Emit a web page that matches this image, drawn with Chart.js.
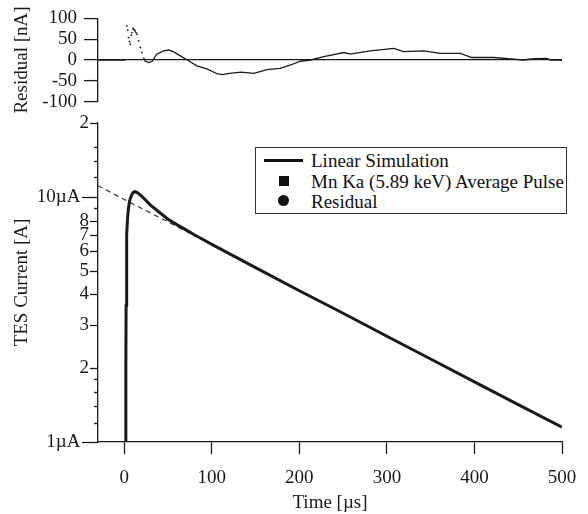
<!DOCTYPE html>
<html>
<head>
<meta charset="utf-8">
<script src="https://cdn.jsdelivr.net/npm/chart.js@4.4.1/dist/chart.umd.min.js"></script>
<style>
  html, body { margin: 0; padding: 0; background: #fff; }
  #wrap { position: relative; width: 588px; height: 514px; overflow: hidden; font-family: 'Liberation Serif', 'DejaVu Serif', serif; }
  canvas { position: absolute; left: 0; }
  #top { top: 0; }
  #main { top: 100px; }
  #legend { position: absolute; left: 255px; top: 147px; width: 312px; height: 67px; border: 1px solid #333; background: #fff; box-sizing: border-box; font-size: 19px; color: #111; }
  .row { position: absolute; left: 0; height: 21px; line-height: 21px; white-space: nowrap; }
  .row span.t { position: absolute; left: 55px; }
  .sym { position: absolute; }
</style>
</head>
<body>
<div id="wrap">
  <canvas id="top" width="588" height="120"></canvas>
  <canvas id="main" width="588" height="414"></canvas>
  <div id="legend">
    <div class="row" style="top:2px"><div class="sym" style="left:8px;top:9px;width:39px;height:3px;background:#111"></div><span class="t">Linear Simulation</span></div>
    <div class="row" style="top:23px"><div class="sym" style="left:23px;top:5px;width:10px;height:10px;background:#111"></div><span class="t">Mn Ka (5.89 keV) Average Pulse</span></div>
    <div class="row" style="top:43px"><div class="sym" style="left:22px;top:4px;width:11px;height:11px;border-radius:50%;background:#111"></div><span class="t">Residual</span></div>
  </div>
</div>
<script>
// ---------- data ----------
// Main panel: TES current (µA) vs time (µs)
const simTime    = [1.5, 1.8, 2.1, 2.5, 3, 3.5, 4.5, 6, 8, 10, 12, 15, 20, 25, 30, 40, 50, 60, 70, 80, 90, 100, 150, 200, 250, 300, 350, 400, 450, 500];
const simCurrent = [1.0, 2.0, 3.6, 5.5, 7.0, 7.9, 8.8, 9.6, 10.1, 10.4, 10.5, 10.4, 10.05, 9.65, 9.25, 8.65, 8.1, 7.7, 7.35, 7.0, 6.7, 6.4, 5.14, 4.14, 3.35, 2.70, 2.18, 1.76, 1.42, 1.15];
// dashed exponential tail fit
const fitTime    = [-30, 0, 50, 100];
const fitCurrent = [11.1, 9.75, 7.9, 6.38];
// Top panel: residual (nA)
const resDotTime = [3, 4, 4.9, 6, 6.8, 8, 8.8, 10, 10.6, 11.5, 12.5, 13.5, 14.5, 16.4, 18.3, 20.2];
const resDotVal  = [82, 72, 54, 44, 38, 60, 66, 76, 74, 72, 70, 66, 62, 46, 30, 18];
const resLineTime = [-30, 1.5, null, 22, 24, 28, 32, 37, 45, 51, 56, 64, 72, 83, 95, 106, 112, 118, 133, 148, 163, 178, 190, 201, 213, 228, 251, 258, 281, 308, 319, 342, 361, 384, 397, 422, 445, 455, 468, 483, 487, 500];
const resLineVal  = [0, 0, null, 6, -3, -6, -3, 14, 22, 24, 20, 10, 0, -14, -22, -33, -35, -33, -29, -32, -23, -20, -12, -3, 0, 8, 18, 14, 22, 28, 20, 22, 16, 16, 6, 6, 2, 0, 3, 4, 0, 0];
// axes
const xTicks = [0, 100, 200, 300, 400, 500];
const yTickValues = [1, 1.2, 1.4, 1.6, 1.8, 2, 3, 4, 5, 6, 7, 8, 9, 10, 12, 14, 16, 20];
const yTickLabels = ['1µA', '', '', '', '', '2', '3', '4', '5', '6', '7', '8', '', '10µA', '', '', '', '2'];
const resTicks = [-100, -50, 0, 50, 100];

// ---------- helpers ----------
const FONT = { family: "'Liberation Serif', 'DejaVu Serif', serif", size: 19 };
const INK = '#1a1a1a';
const pts = (xs, ys, scale) => xs.map((x, i) => ({ x: x, y: ys[i] === null ? null : ys[i] * scale }));
const uA = v => Math.round(v * 1e7) / 10;

// ---------- top panel ----------
new Chart(document.getElementById('top'), {
  type: 'scatter',
  data: {
    datasets: [
      { data: pts(resLineTime, resLineVal, 1), showLine: true, borderColor: INK, borderWidth: 1.3, pointRadius: 0, spanGaps: false, order: 1 },
      { data: pts(resDotTime, resDotVal, 1), showLine: false, pointRadius: 0.9, pointBackgroundColor: INK, pointBorderWidth: 0, order: 2 }
    ]
  },
  options: {
    responsive: false, animation: false, devicePixelRatio: 1,
    layout: { padding: { top: 17.7, bottom: 18.3, left: 0, right: 26 } },
    plugins: { legend: { display: false }, tooltip: { enabled: false } },
    scales: {
      x: { type: 'linear', min: -30, max: 500, display: false },
      y: {
        type: 'linear', min: -100, max: 100,
        afterBuildTicks: s => { s.ticks = resTicks.map(v => ({ value: v })); },
        afterFit: s => { s.width = 98; },
        ticks: { font: FONT, color: INK, padding: 7, autoSkip: false },
        grid: { drawOnChartArea: true, drawTicks: true, tickLength: 14, tickColor: INK, tickWidth: 1.3,
                color: c => (c.tick && c.tick.value === 0) ? INK : 'rgba(0,0,0,0)', lineWidth: 1.2 },
        border: { display: true, color: INK, width: 1.3 },
        title: { display: true, text: 'Residual [nA]', font: FONT, color: INK, padding: { top: 10.6, bottom: 0 } }
      }
    }
  }
});

// ---------- main panel ----------
const yTickPlugin = {
  id: 'yTickMarks',
  afterDraw(chart) {
    const s = chart.scales.y, ctx = chart.ctx;
    ctx.save();
    ctx.strokeStyle = INK; ctx.lineWidth = 1.3;
    s.ticks.forEach(t => {
      const u = uA(t.value);
      const idx = yTickValues.indexOf(u);
      const lab = idx >= 0 ? yTickLabels[idx] : '';
      const len = (u === 1 || u === 10) ? 16 : (lab ? 8 : 4);
      const y = Math.round(s.getPixelForValue(t.value)) + 0.5;
      ctx.beginPath(); ctx.moveTo(s.right - len, y); ctx.lineTo(s.right, y); ctx.stroke();
    });
    ctx.restore();
  }
};

new Chart(document.getElementById('main'), {
  type: 'scatter',
  data: {
    datasets: [
      { data: pts(fitTime, fitCurrent, 1e-6), showLine: true, borderColor: '#333', borderWidth: 1.2, borderDash: [5, 4], pointRadius: 0, order: 2 },
      { data: pts(simTime, simCurrent, 1e-6), showLine: true, borderColor: INK, borderWidth: 3, pointRadius: 0, tension: 0, order: 1 }
    ]
  },
  options: {
    responsive: false, animation: false, devicePixelRatio: 1,
    layout: { padding: { top: 23, bottom: 0, left: 0, right: 26 } },
    plugins: { legend: { display: false }, tooltip: { enabled: false } },
    scales: {
      x: {
        type: 'linear', min: -30, max: 500,
        afterBuildTicks: s => { s.ticks = xTicks.map(v => ({ value: v })); },
        afterFit: s => { s.height = 72; s.paddingLeft = 0; s.paddingRight = 0; },
        ticks: { font: FONT, color: INK, padding: 13, autoSkip: false, maxRotation: 0 },
        grid: { drawOnChartArea: false, drawTicks: true, tickLength: 12, tickColor: INK, tickWidth: 1.3 },
        border: { display: true, color: INK, width: 1.3 },
        title: { display: true, text: 'Time [µs]', font: FONT, color: INK, padding: { top: 0, bottom: 0 } }
      },
      y: {
        type: 'logarithmic', min: 1e-6, max: 2e-5,
        afterBuildTicks: s => { s.ticks = yTickValues.map(v => ({ value: v * 1e-6 })); },
        afterFit: s => { s.width = 98; s.paddingTop = 0; s.paddingBottom = 0; },
        ticks: {
          font: FONT, color: INK, padding: 9, autoSkip: false,
          callback: v => {
            const u = uA(v);
            const i = yTickValues.indexOf(u);
            if (i < 0) return '';
            const l = yTickLabels[i];
            return (u === 1 || u === 10) ? l + ' \u2009' : l;
          }
        },
        grid: { drawOnChartArea: false, drawTicks: false },
        border: { display: true, color: INK, width: 1.3 },
        title: { display: true, text: 'TES Current [A]', font: FONT, color: INK, padding: { top: 10.6, bottom: 0 } }
      }
    }
  },
  plugins: [yTickPlugin]
});
</script>
</body>
</html>
